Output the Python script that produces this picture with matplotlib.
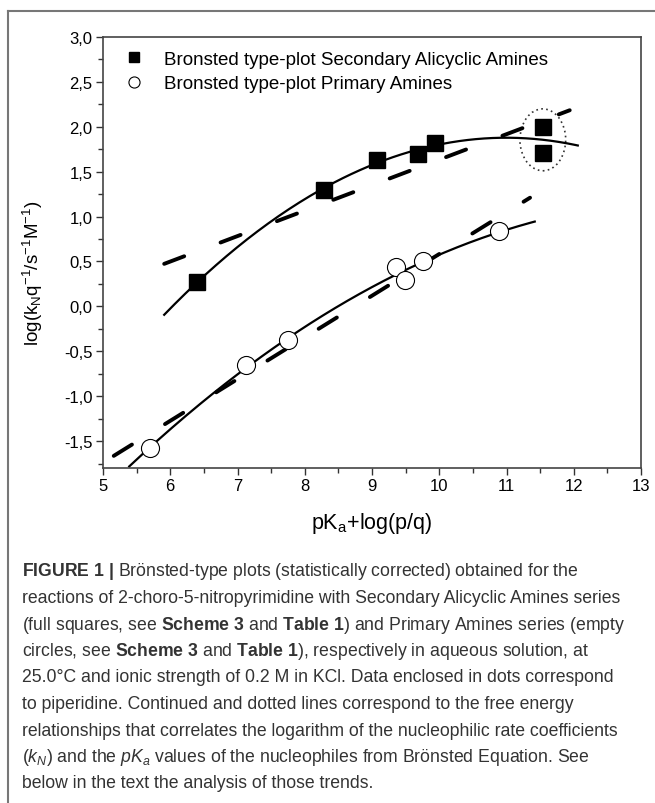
import matplotlib
matplotlib.use("Agg")
import matplotlib.pyplot as plt
import numpy as np
from matplotlib.patches import Ellipse
from matplotlib.lines import Line2D
from matplotlib.ticker import MultipleLocator, FuncFormatter

plt.rcParams['font.family'] = ['Liberation Sans', 'DejaVu Sans']
plt.rcParams['mathtext.fontset'] = 'custom'
plt.rcParams['mathtext.rm'] = 'Liberation Sans'
plt.rcParams['mathtext.it'] = 'Liberation Sans:italic'
plt.rcParams['mathtext.bf'] = 'Liberation Sans:bold'

# secondary alicyclic amines (full squares)
sec_x = [6.40, 8.28, 9.07, 9.68, 9.94, 11.54, 11.54]
sec_y = [0.27, 1.30, 1.63, 1.70, 1.82, 2.00, 1.71]
# primary amines (empty circles)
pri_x = [5.70, 7.13, 7.75, 9.35, 9.49, 9.76, 10.89]
pri_y = [-1.58, -0.65, -0.37, 0.44, 0.29, 0.50, 0.84]

# x ranges over which the fitted lines are drawn
sec_curve_range = [5.91, 12.06]
sec_line_range = [5.91, 11.94]
pri_curve_range = [5.39, 11.42]
pri_line_range = [5.16, 11.35]

# piperidine points (enclosed in dots)
pip_x = 11.54
pip_y = [2.00, 1.71]

legend_labels = ["Bronsted type-plot Secondary Alicyclic Amines",
                 "Bronsted type-plot Primary Amines"]

caption = [
    r"$\bf{FIGURE\ 1\ |}$ Brönsted-type plots (statistically corrected) obtained for the",
    "reactions of 2-choro-5-nitropyrimidine with Secondary Alicyclic Amines series",
    r"(full squares, see $\bf{Scheme\ 3}$ and $\bf{Table\ 1}$) and Primary Amines series (empty",
    r"circles, see $\bf{Scheme\ 3}$ and $\bf{Table\ 1}$), respectively in aqueous solution, at",
    "25.0°C and ionic strength of 0.2 M in KCl. Data enclosed in dots correspond",
    "to piperidine. Continued and dotted lines correspond to the free energy",
    "relationships that correlates the logarithm of the nucleophilic rate coefficients",
    r"($k_N$) and the $pK_a$ values of the nucleophiles from Brönsted Equation. See",
    "below in the text the analysis of those trends.",
]

W, H = 655, 804
fig = plt.figure(figsize=(W / 100, H / 100), dpi=100)
ax = fig.add_axes([103 / W, 1 - 469 / H, 538 / W, 431 / H])

dash = (0, (5.5, 10))

# fits
for xs, ys, crange, lrange in [(sec_x, sec_y, sec_curve_range, sec_line_range),
                               (pri_x, pri_y, pri_curve_range, pri_line_range)]:
    c2 = np.polyfit(xs, ys, 2)
    xx = np.linspace(crange[0], crange[1], 200)
    ax.plot(xx, np.polyval(c2, xx), color='black', lw=1.6, zorder=2)
    c1 = np.polyfit(xs, ys, 1)
    xl = np.array(lrange)
    ax.plot(xl, np.polyval(c1, xl), color='black', lw=2.8, linestyle=dash,
            dash_capstyle='round', zorder=2)

ax.plot(sec_x, sec_y, 's', color='black', markersize=11, zorder=3)
ax.plot(pri_x, pri_y, 'o', markerfacecolor='white', markeredgecolor='black',
        markeredgewidth=0.8, markersize=13, zorder=3)

ell = Ellipse((pip_x, np.mean(pip_y)), 0.68, 0.69, fill=False, edgecolor='#333333',
              lw=1.2, linestyle=(0, (1, 2)), zorder=1)
ax.add_patch(ell)

ax.set_xlim(5, 13)
ax.set_ylim(-1.8, 3.0)
ax.xaxis.set_major_locator(MultipleLocator(1))
ax.xaxis.set_minor_locator(MultipleLocator(0.5))
ax.yaxis.set_major_locator(MultipleLocator(0.5))
ax.yaxis.set_minor_locator(MultipleLocator(0.25))
ax.yaxis.set_major_formatter(FuncFormatter(lambda v, p: f"{v:.1f}".replace('.', ',')))
ax.xaxis.set_major_formatter(FuncFormatter(lambda v, p: f"{v:.0f}"))
ax.tick_params(which='both', direction='out', top=False, right=False,
               color='#333333', labelsize=12, width=1)
ax.tick_params(which='major', length=5, pad=2.5)
ax.tick_params(which='minor', length=3.5)
for s in ax.spines.values():
    s.set_color('#444444')
    s.set_linewidth(1.2)

ax.set_xlabel(r"pK$_\mathregular{a}$+log(p/q)", fontsize=15.5, labelpad=12)
ax.set_ylabel(r"log(k$_\mathregular{N}$q$^\mathregular{-1}$/s$^\mathregular{-1}$M$^\mathregular{-1}$)",
              fontsize=13.5, labelpad=4)
ax.yaxis.set_label_coords(-0.108, 0.455)

handles = [Line2D([], [], marker='s', color='black', linestyle='none', markersize=7),
           Line2D([], [], marker='o', markerfacecolor='white', markeredgecolor='black',
                  markeredgewidth=0.8, linestyle='none', markersize=8)]
ax.legend(handles, legend_labels, loc='upper left', bbox_to_anchor=(0.02, 0.995),
          frameon=False, fontsize=13.5, handlelength=1.0, handletextpad=1.1,
          labelspacing=0.4, borderaxespad=0.2)

# outer frame
fig.add_artist(Line2D([8 / W, 1], [1 - 12 / H, 1 - 12 / H], color='#777777', lw=1.5))
fig.add_artist(Line2D([8 / W, 8 / W], [0, 1 - 12 / H], color='#777777', lw=1.5))

for i, line in enumerate(caption):
    fig.text(22 / W, 1 - (572 + 26.5 * i) / H, line, fontsize=12.7, color='#333333',
             va='center', ha='left')

fig.savefig("out.png", dpi=100)
